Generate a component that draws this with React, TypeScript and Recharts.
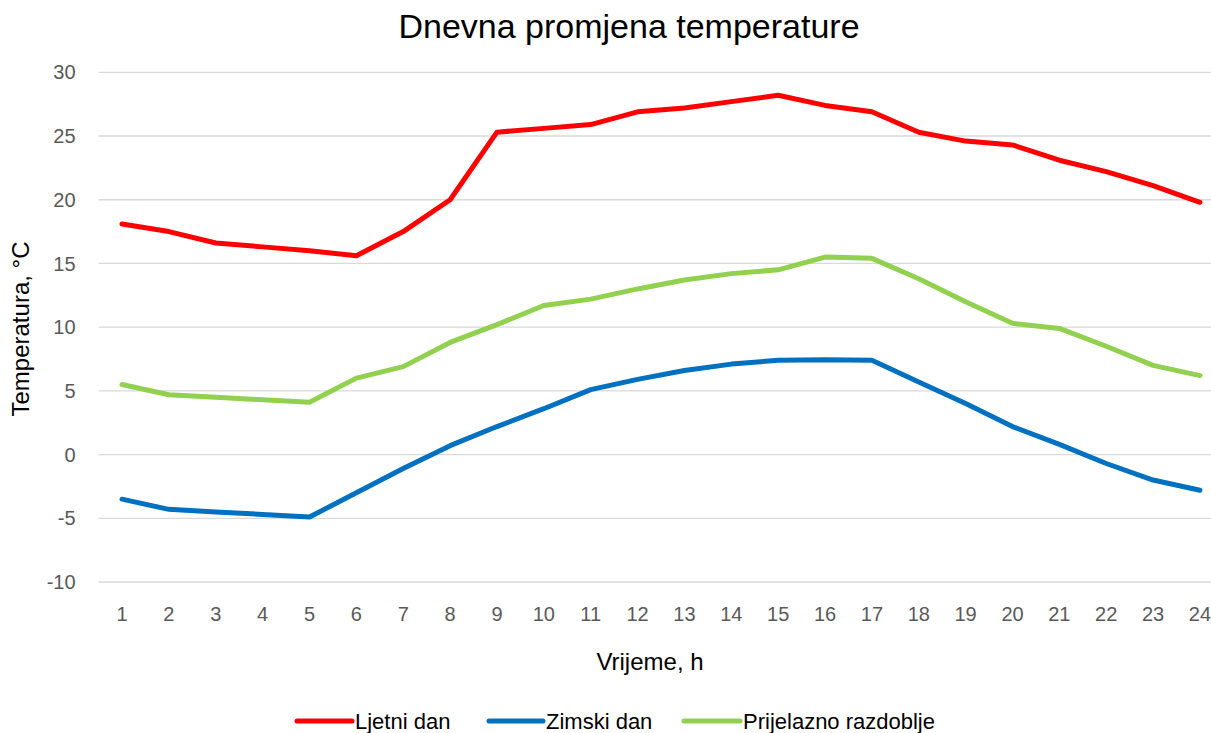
import React from "react";
import { LineChart, Line, XAxis, YAxis, CartesianGrid } from "recharts";

const hours = [1, 2, 3, 4, 5, 6, 7, 8, 9, 10, 11, 12, 13, 14, 15, 16, 17, 18, 19, 20, 21, 22, 23, 24];
const ljetniDan = [18.1, 17.5, 16.6, 16.3, 16.0, 15.6, 17.5, 20.0, 25.3, 25.6, 25.9, 26.9, 27.2, 27.7, 28.2, 27.4, 26.9, 25.3, 24.6, 24.3, 23.1, 22.2, 21.1, 19.8];
const zimskiDan = [-3.5, -4.3, -4.5, -4.7, -4.9, -3.0, -1.1, 0.7, 2.2, 3.6, 5.1, 5.9, 6.6, 7.1, 7.4, 7.45, 7.4, 5.7, 4.0, 2.2, 0.8, -0.7, -2.0, -2.8];
const prijelazno = [5.5, 4.7, 4.5, 4.3, 4.1, 6.0, 6.9, 8.8, 10.2, 11.7, 12.2, 13.0, 13.7, 14.2, 14.5, 15.5, 15.4, 13.8, 12.0, 10.3, 9.9, 8.5, 7.0, 6.2];
const yTicks = [-10, -5, 0, 5, 10, 15, 20, 25, 30];

const seriesNames = ["Ljetni dan", "Zimski dan", "Prijelazno razdoblje"];
const seriesColors = ["#FF0000", "#0070C0", "#92D050"];

const data = hours.map((h, i) => ({
  h,
  ljetni: ljetniDan[i],
  zimski: zimskiDan[i],
  prijelazno: prijelazno[i],
}));

const FONT = "'Liberation Sans', Arial, sans-serif";

export default function App() {
  const legendItems = [
    { name: seriesNames[0], color: seriesColors[0], x1: 297, x2: 352, tx: 355 },
    { name: seriesNames[1], color: seriesColors[1], x1: 489, x2: 543, tx: 546 },
    { name: seriesNames[2], color: seriesColors[2], x1: 684, x2: 740, tx: 743 },
  ];
  return (
    <div
      style={{
        position: "fixed",
        left: 0,
        top: 0,
        width: 1211,
        height: 733,
        overflow: "hidden",
        background: "#fff",
        fontFamily: FONT,
      }}
    >
      <LineChart
        width={1240}
        height={733}
        data={data}
        margin={{ top: 72.3, right: 16.6, bottom: 121, left: 0 }}
      >
        <CartesianGrid vertical={false} stroke="#D9D9D9" strokeWidth={1.3} />
        <XAxis
          dataKey="h"
          type="number"
          domain={[0.5, 24.5]}
          ticks={hours}
          interval={0}
          height={30}
          axisLine={false}
          tickLine={false}
          tickSize={0}
          tickMargin={24.5}
          tick={{ fill: "#595959", fontSize: 20, fontFamily: FONT }}
        />
        <YAxis
          type="number"
          domain={[-10, 30]}
          ticks={yTicks}
          width={98.6}
          axisLine={false}
          tickLine={false}
          tickSize={0}
          tickMargin={23}
          tick={{ fill: "#595959", fontSize: 20, fontFamily: FONT }}
        />
        <Line
          dataKey="ljetni"
          name={seriesNames[0]}
          stroke={seriesColors[0]}
          strokeWidth={5}
          dot={false}
          strokeLinecap="round"
          strokeLinejoin="round"
          isAnimationActive={false}
        />
        <Line
          dataKey="zimski"
          name={seriesNames[1]}
          stroke={seriesColors[1]}
          strokeWidth={5}
          dot={false}
          strokeLinecap="round"
          strokeLinejoin="round"
          isAnimationActive={false}
        />
        <Line
          dataKey="prijelazno"
          name={seriesNames[2]}
          stroke={seriesColors[2]}
          strokeWidth={5}
          dot={false}
          strokeLinecap="round"
          strokeLinejoin="round"
          isAnimationActive={false}
        />
      </LineChart>
      <svg
        width={1211}
        height={733}
        style={{ position: "absolute", left: 0, top: 0, pointerEvents: "none" }}
      >
        <text x={629} y={38} textAnchor="middle" fontSize={34} fill="#000" fontFamily={FONT}>
          Dnevna promjena temperature
        </text>
        <text
          transform="translate(29,329) rotate(-90)"
          textAnchor="middle"
          fontSize={24}
          fill="#000"
          fontFamily={FONT}
        >
          Temperatura, °C
        </text>
        <text x={650} y={670} textAnchor="middle" fontSize={24} fill="#000" fontFamily={FONT}>
          Vrijeme, h
        </text>
        {legendItems.map((it) => (
          <g key={it.name}>
            <line x1={it.x1} x2={it.x2} y1={721} y2={721} stroke={it.color} strokeWidth={5} strokeLinecap="round" />
            <text x={it.tx} y={729} fontSize={22} fill="#000" fontFamily={FONT}>
              {it.name}
            </text>
          </g>
        ))}
      </svg>
    </div>
  );
}
